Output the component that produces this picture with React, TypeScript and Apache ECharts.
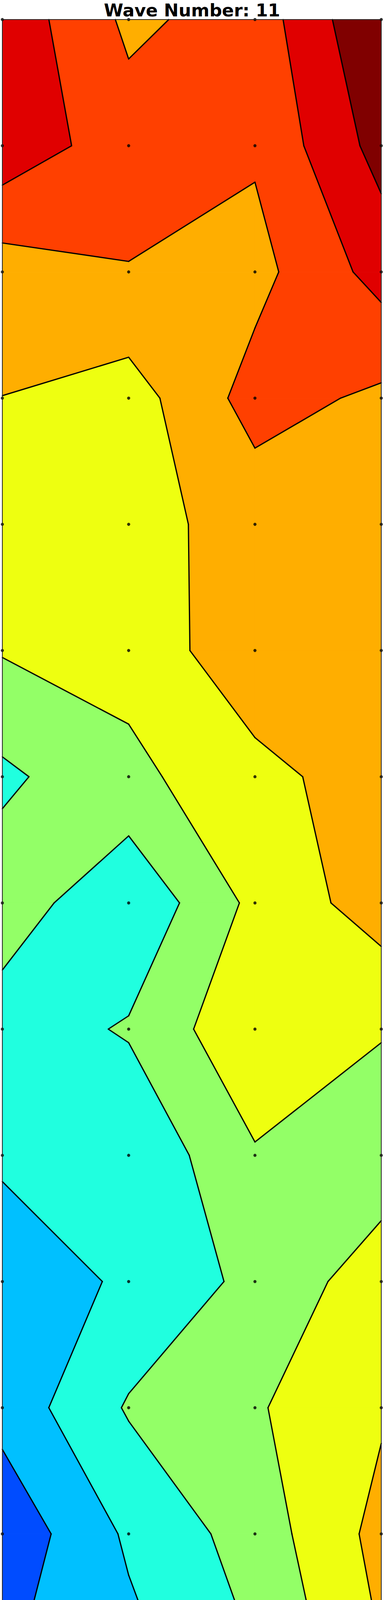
import React, { useEffect, useRef } from 'react';
import * as echarts from 'echarts';

const TITLE = 'Wave Number: 11';
const COLS = [0, 1, 2, 3];
// grid values, top row first
const VALUES: number[][] = [
  [8.70, 6.80, 7.43, 9.99],
  [8.68, 7.44, 7.13, 9.38],
  [6.50, 6.96, 6.68, 8.38],
  [5.99, 5.54, 7.40, 6.81],
  [5.50, 5.65, 6.39, 6.60],
  [5.07, 5.35, 6.69, 6.60],
  [3.80, 4.75, 5.69, 6.51],
  [4.59, 3.15, 5.26, 6.49],
  [3.48, 4.10, 5.85, 5.07],
  [3.20, 3.17, 4.90, 4.42],
  [2.24, 3.20, 4.26, 5.54],
  [2.36, 4.10, 4.90, 5.87],
  [1.27, 3.16, 4.45, 6.33],
  [1.90, 2.67, 3.99, 5.98],
  [0.30, 1.90, 2.53, 4.45],
  [-0.03, 1.90, 3.97, 3.14],
];
const LEVELS = [0, 1, 2, 3, 4, 5, 6, 7, 8, 9];
const BAND_COLORS = [
  '#0000e0', '#004cff', '#00c0ff', '#20ffdf', '#93ff67',
  '#eeff10', '#ffae00', '#ff4000', '#e00000', '#800000',
];

type Pt = { x: number; y: number; v: number; cross: boolean; level: number; up: boolean; t: number };

function perimeter(r: number, c: number, levels: number[]): Pt[] {
  const corners = [[c, r], [c + 1, r], [c + 1, r + 1], [c, r + 1]];
  const vals = corners.map(([x, y]) => VALUES[y][x]);
  const pts: Pt[] = [];
  for (let k = 0; k < 4; k++) {
    const [x0, y0] = corners[k];
    const [x1, y1] = corners[(k + 1) % 4];
    const a = vals[k];
    const b = vals[(k + 1) % 4];
    pts.push({ x: x0, y: y0, v: a, cross: false, level: NaN, up: false, t: 0 });
    const xs: Pt[] = [];
    for (const L of levels) {
      if ((a >= L) !== (b >= L)) {
        const t = (L - a) / (b - a);
        xs.push({ x: x0 + (x1 - x0) * t, y: y0 + (y1 - y0) * t, v: L, cross: true, level: L, up: b >= L, t });
      }
    }
    xs.sort((p, q) => p.t - q.t);
    pts.push(...xs);
  }
  return pts;
}

function cellCenter(r: number, c: number) {
  return (VALUES[r][c] + VALUES[r][c + 1] + VALUES[r + 1][c] + VALUES[r + 1][c + 1]) / 4;
}

// marching squares pairing; saddles decided by the cell mean
function pairUp(pts: Pt[], L: number, center: number, partner: Map<number, number>) {
  const idx: number[] = [];
  pts.forEach((p, i) => { if (p.cross && p.level === L) idx.push(i); });
  if (idx.length === 2) {
    partner.set(idx[0], idx[1]);
    partner.set(idx[1], idx[0]);
  } else if (idx.length === 4) {
    const aboveJoined = center >= L;
    for (let i = 0; i < 4; i++) {
      if (pts[idx[i]].up !== aboveJoined) {
        const a = idx[i];
        const b = idx[(i + 1) % 4];
        partner.set(a, b);
        partner.set(b, a);
      }
    }
  }
}

function bandPolys(r: number, c: number, lo: number, hi: number): number[][][] {
  const lv = [lo, hi].filter((l) => Number.isFinite(l));
  const pts = perimeter(r, c, lv);
  const center = cellCenter(r, c);
  const partner = new Map<number, number>();
  lv.forEach((L) => pairUp(pts, L, center, partner));
  const inBand = (v: number) => v >= lo && v < hi;
  const leaving = (p: Pt) => p.cross && (p.level === hi ? p.up : !p.up);
  const N = pts.length;
  const seen = new Array(N).fill(false);
  const polys: number[][][] = [];
  for (let s = 0; s < N; s++) {
    if (seen[s]) continue;
    const p = pts[s];
    const ok = p.cross ? !leaving(p) : inBand(p.v);
    if (!ok) continue;
    const poly: number[][] = [];
    let i = s;
    let guard = 0;
    do {
      poly.push([pts[i].x, pts[i].y]);
      seen[i] = true;
      if (leaving(pts[i])) {
        const j = partner.get(i) as number;
        if (j === s) break;
        poly.push([pts[j].x, pts[j].y]);
        seen[j] = true;
        i = (j + 1) % N;
      } else {
        i = (i + 1) % N;
      }
    } while (i !== s && ++guard < 100);
    if (poly.length >= 3) polys.push(poly);
  }
  return polys;
}

const FILLS: { band: number; pts: number[][] }[] = [];
const SEGS: number[][] = [];
for (let r = 0; r < VALUES.length - 1; r++) {
  for (let c = 0; c < COLS.length - 1; c++) {
    BAND_COLORS.forEach((_, b) => {
      const lo = b === 0 ? -Infinity : LEVELS[b];
      const hi = b === BAND_COLORS.length - 1 ? Infinity : LEVELS[b + 1];
      bandPolys(r, c, lo, hi).forEach((pts) => FILLS.push({ band: b, pts }));
    });
    LEVELS.forEach((L) => {
      const pts = perimeter(r, c, [L]);
      const partner = new Map<number, number>();
      pairUp(pts, L, cellCenter(r, c), partner);
      partner.forEach((j, i) => {
        if (i < j) SEGS.push([pts[i].x, pts[i].y, pts[j].x, pts[j].y]);
      });
    });
  }
}

const DOTS: number[][] = [];
VALUES.forEach((row, r) => row.forEach((_, c) => DOTS.push([COLS[c], r])));

export default function App() {
  const ref = useRef<HTMLDivElement>(null);
  useEffect(() => {
    if (!ref.current) return;
    const chart = echarts.init(ref.current, undefined, { renderer: 'svg' });
    const axisBase = {
      type: 'value' as const,
      axisLine: { show: true, onZero: false, lineStyle: { color: '#262626', width: 2 } },
      axisTick: { show: false },
      axisLabel: { show: false },
      splitLine: { show: false },
      z: 10,
    };
    chart.setOption({
      animation: false,
      backgroundColor: '#ffffff',
      title: {
        text: TITLE,
        left: 'center',
        top: 4,
        padding: 0,
        textStyle: { fontFamily: 'DejaVu Sans', fontWeight: 'bold', fontSize: 45, color: '#000' },
      },
      grid: { left: 6, top: 50, width: 971, height: 4846 },
      xAxis: [
        { ...axisBase, min: 0, max: COLS.length - 1, position: 'bottom' },
        { ...axisBase, min: 0, max: COLS.length - 1, position: 'top' },
      ],
      yAxis: [
        { ...axisBase, min: 0, max: VALUES.length - 1, inverse: true, position: 'left' },
        { ...axisBase, min: 0, max: VALUES.length - 1, inverse: true, position: 'right' },
      ],
      series: [
        {
          type: 'custom',
          z: 1,
          silent: true,
          data: FILLS.map((f, i) => [f.pts[0][0], f.pts[0][1], i]),
          renderItem: (params: any, api: any) => {
            const f = FILLS[params.dataIndex];
            const color = BAND_COLORS[f.band];
            return {
              type: 'polygon',
              shape: { points: f.pts.map((p) => api.coord(p)) },
              style: { fill: color, stroke: color, lineWidth: 1 },
            };
          },
        },
        {
          type: 'custom',
          z: 3,
          silent: true,
          data: SEGS.map((s, i) => [s[0], s[1], i]),
          renderItem: (params: any, api: any) => {
            const s = SEGS[params.dataIndex];
            const a = api.coord([s[0], s[1]]);
            const b = api.coord([s[2], s[3]]);
            return {
              type: 'line',
              shape: { x1: a[0], y1: a[1], x2: b[0], y2: b[1] },
              style: { stroke: '#000', lineWidth: 3.2, lineCap: 'round' },
            };
          },
        },
        {
          type: 'scatter',
          z: 4,
          silent: true,
          symbol: 'circle',
          symbolSize: 8,
          itemStyle: { color: '#000' },
          data: DOTS,
        },
      ],
    });
    return () => chart.dispose();
  }, []);
  return <div ref={ref} style={{ position: 'absolute', left: 0, top: 0, width: 984, height: 4905 }} />;
}
